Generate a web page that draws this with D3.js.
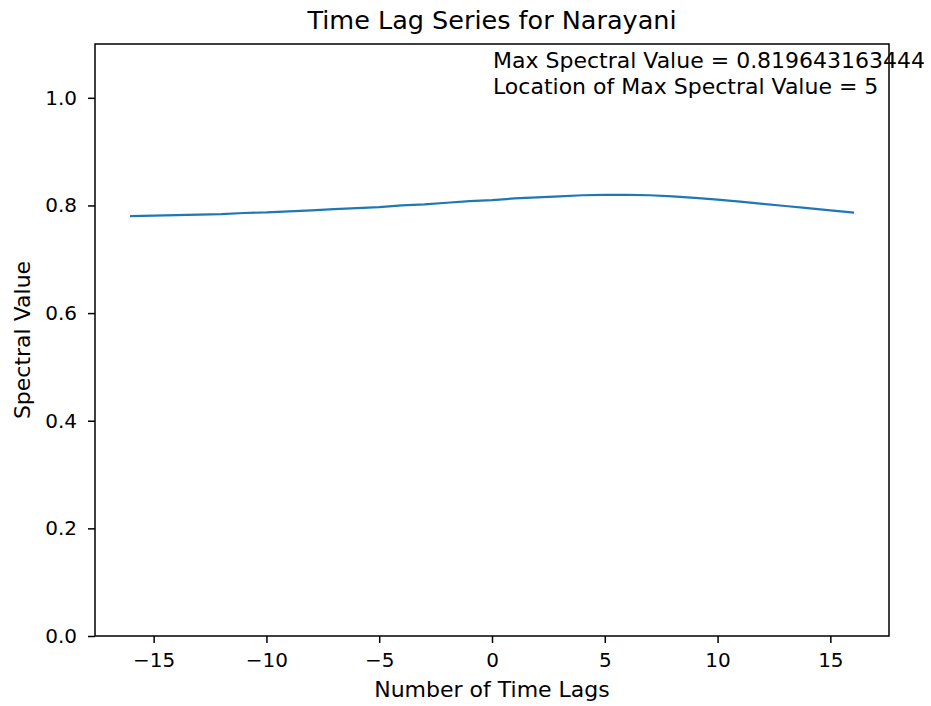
<!DOCTYPE html>
<html>
<head>
<meta charset="utf-8">
<script src="https://cdn.jsdelivr.net/npm/d3@7/dist/d3.min.js"></script>
<style>
html,body{margin:0;padding:0;background:#fff;}
svg{display:block;}
text{font-family:"DejaVu Sans",sans-serif;fill:#000;}
</style>
</head>
<body>
<svg id="chart" width="931" height="706"></svg>
<script>
const lags = [-16,-15,-14,-13,-12,-11,-10,-9,-8,-7,-6,-5,-4,-3,-2,-1,0,1,2,3,4,5,6,7,8,9,10,11,12,13,14,15,16];
const spectralValues = [0.780,0.781,0.782,0.783,0.784,0.786,0.787,0.789,0.791,0.793,0.795,0.797,0.800,0.802,0.805,0.808,0.810,0.813,0.815,0.817,0.819,0.8196,0.8195,0.819,0.817,0.814,0.811,0.807,0.803,0.799,0.795,0.791,0.787];
const xTicks = [-15,-10,-5,0,5,10,15];
const yTicks = [0.0,0.2,0.4,0.6,0.8,1.0];
const titleText = "Time Lag Series for Narayani";
const xLabelText = "Number of Time Lags";
const yLabelText = "Spectral Value";
const annotLines = ["Max Spectral Value = 0.819643163444","Location of Max Spectral Value = 5"];
const annotPos = [0, 1.0];

const svg = d3.select("#chart");
const L = 95, R = 889, T = 44, B = 636;
const x = d3.scaleLinear().domain([-17.6, 17.6]).range([L, R]);
const y = d3.scaleLinear().domain([0, 1.1]).range([B, T]);

const fmtX = d => (d < 0 ? "\u2212" + Math.abs(d) : String(d));
const xAxis = d3.axisBottom(x).tickValues(xTicks).tickFormat(fmtX).tickSizeOuter(0).tickSize(7).tickPadding(10);
const yAxis = d3.axisLeft(y).tickValues(yTicks).tickFormat(d3.format(".1f")).tickSizeOuter(0).tickSize(7).tickPadding(11);

const gx = svg.append("g").attr("transform", `translate(0,${B})`).call(xAxis);
const gy = svg.append("g").attr("transform", `translate(${L},0)`).call(yAxis);
[gx, gy].forEach(g => {
  g.select(".domain").remove();
  g.selectAll(".tick line").attr("stroke", "#000").attr("stroke-width", 1.5);
  g.selectAll(".tick text").attr("font-size", 20).attr("fill", "#000").style("font-family", '"DejaVu Sans",sans-serif');
});

// line
const line = d3.line().x((d, i) => x(lags[i])).y(d => y(d)).curve(d3.curveLinear);
svg.append("path").datum(spectralValues)
  .attr("d", line).attr("fill", "none").attr("stroke", "#1f77b4").attr("stroke-width", 2.2)
  .attr("stroke-linecap", "square");

// frame
svg.append("rect").attr("x", L).attr("y", T).attr("width", R - L).attr("height", B - T)
  .attr("fill", "none").attr("stroke", "#000").attr("stroke-width", 1.5);

// title
svg.append("text").attr("x", (L + R) / 2).attr("y", 28.5).attr("text-anchor", "middle")
  .attr("font-size", 25.5).text(titleText);

// axis labels
svg.append("text").attr("x", (L + R) / 2).attr("y", 697).attr("text-anchor", "middle")
  .attr("font-size", 22).text(xLabelText);
svg.append("text").attr("transform", `translate(30,${(T + B) / 2}) rotate(-90)`).attr("text-anchor", "middle")
  .attr("font-size", 22).text(yLabelText);

// annotation
annotLines.forEach((t, i) => {
  svg.append("text").attr("x", x(annotPos[0]) + 1).attr("y", y(annotPos[1]) - 29.5 + i * 26)
    .attr("font-size", 22).text(t);
});
</script>
</body>
</html>
